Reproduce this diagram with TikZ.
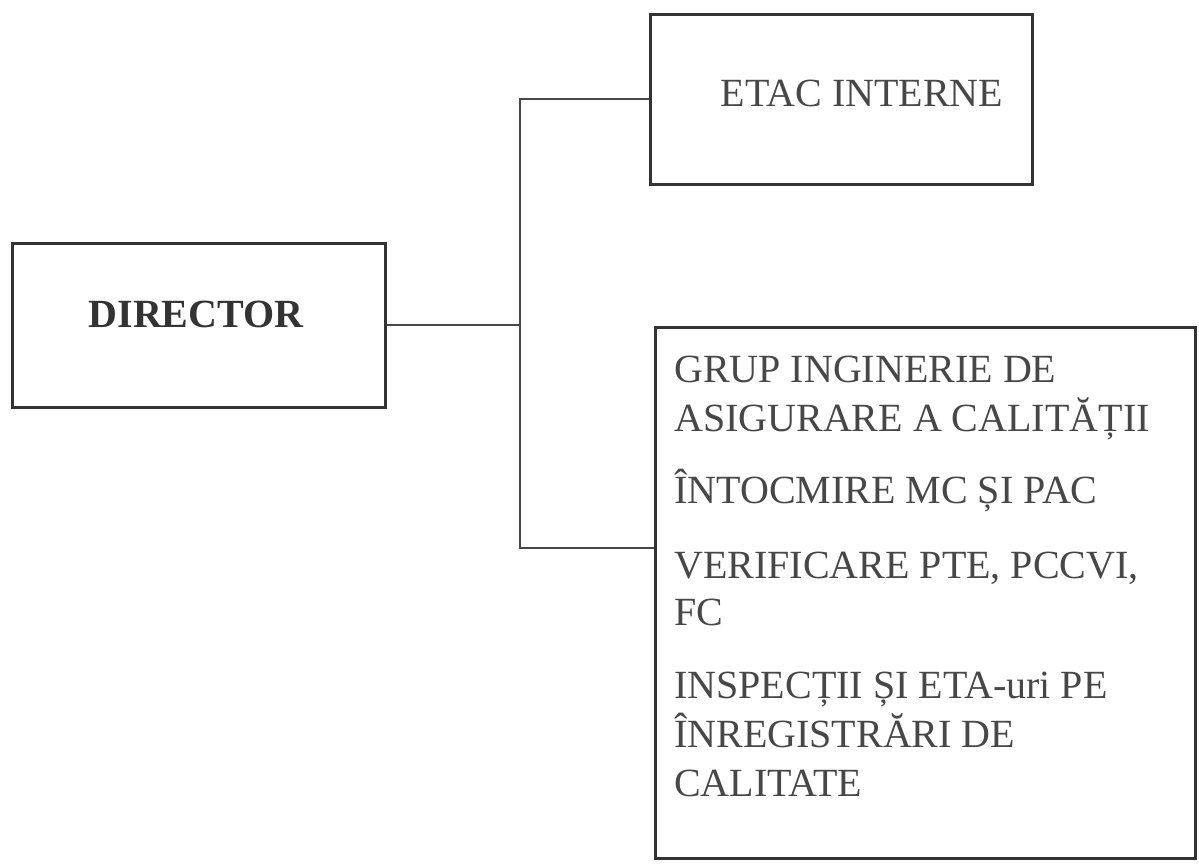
\documentclass[tikz,border=0pt]{standalone}
\usepackage{fontspec}
\setmainfont{Liberation Serif}
\begin{document}
\begin{tikzpicture}[x=1pt,y=-1pt,
  boxline/.style={draw=black!80, line width=3pt, rectangle, inner sep=0pt},
  conn/.style={draw=black!72, line width=1.8pt},
  txt/.style={anchor=base west, inner sep=0pt, text=black!72, font=\fontsize{40}{48}\selectfont},
  ctr/.style={anchor=base, inner sep=0pt, text=black!72, font=\fontsize{40}{48}\selectfont}]
\useasboundingbox (0,0) rectangle (1199,865);
% boxes
\node[boxline, minimum width=373pt, minimum height=164pt] (dir) at (198.5,325) {};
\node[boxline, minimum width=382pt, minimum height=170pt] (etac) at (841,99) {};
\node[boxline, minimum width=540pt, minimum height=531pt] (grp) at (925,592.5) {};
% texts
\node[ctr, text=black!80, font=\fontsize{40}{48}\selectfont\bfseries] (tdir) at (196,327) {DIRECTOR};
\node[ctr] (tetac) at (862,106) {ETAC INTERNE};
\node[txt] (l1) at (674,382) {GRUP INGINERIE DE};
\node[txt] (l2) at (674,431) {ASIGURARE A CALITĂȚII};
\node[txt] (l3) at (674,503) {ÎNTOCMIRE MC ȘI PAC};
\node[txt] (l4) at (674,578) {VERIFICARE PTE, PCCVI,};
\node[txt] (l5) at (674,625) {FC};
\node[txt] (l6) at (674,698) {INSPECȚII ȘI ETA-uri PE};
\node[txt] (l7) at (674,747) {ÎNREGISTRĂRI DE};
\node[txt] (l8) at (674,796) {CALITATE};
% connectors
\coordinate (j1) at (520,325);
\coordinate (j2) at (520,548);
\draw[conn] (dir.east) -- (j1);
\draw[conn] (j1) |- (etac.west);
\draw[conn] (j1) -- (j2) -- (j2 -| grp.west);
\end{tikzpicture}
\end{document}
